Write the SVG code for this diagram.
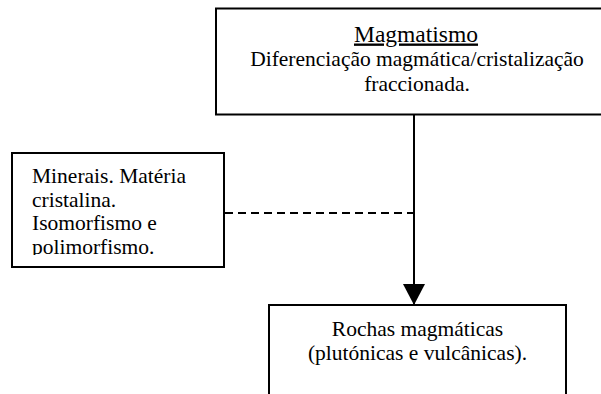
<svg xmlns="http://www.w3.org/2000/svg" width="601" height="394" viewBox="0 0 601 394">
<style>
.box{fill:#fff;stroke:#000;stroke-width:2}
.t{font-family:"Liberation Serif","Times New Roman",serif;font-size:21.5px;fill:#000}
.h{font-size:23.5px}
.c{text-anchor:middle}
.conn{stroke:#000;stroke-width:2;fill:none}
.dash{stroke:#000;stroke-width:2;stroke-dasharray:8 5;fill:none}
</style>
<defs>
<marker id="arr" markerUnits="userSpaceOnUse" markerWidth="22" markerHeight="22" viewBox="0 0 22 22" refX="21" refY="11" orient="auto">
<path d="M0,0 L21,11 L0,22 Z" fill="#000"/>
</marker>
<clipPath id="clipL"><rect x="12" y="153" width="212" height="102"/></clipPath>
</defs>
<g id="connectors">
<line class="conn" x1="414" y1="115" x2="414" y2="305" marker-end="url(#arr)"/>
<line class="dash" x1="225" y1="213" x2="413" y2="213"/>
</g>
<g id="magmatismo">
<rect class="box" x="216" y="8.5" width="400" height="106"/>
<text class="t h c" x="416" y="41.5" text-decoration="underline">Magmatismo</text>
<text class="t c" x="417" y="66">Diferenciação magmática/cristalização</text>
<text class="t c" x="417" y="90.5">fraccionada.</text>
</g>
<g id="minerais">
<rect class="box" x="12" y="153" width="212" height="114"/>
<g clip-path="url(#clipL)">
<text class="t" x="32" y="183">Minerais. Matéria</text>
<text class="t" x="32" y="206.5">cristalina.</text>
<text class="t" x="32" y="230">Isomorfismo e</text>
<text class="t" x="32" y="253.5">polimorfismo.</text>
</g>
</g>
<g id="rochas">
<rect class="box" x="269" y="305" width="297" height="100"/>
<text class="t c" x="417.5" y="336">Rochas magmáticas</text>
<text class="t c" x="417.5" y="360">(plutónicas e vulcânicas).</text>
</g>
</svg>
